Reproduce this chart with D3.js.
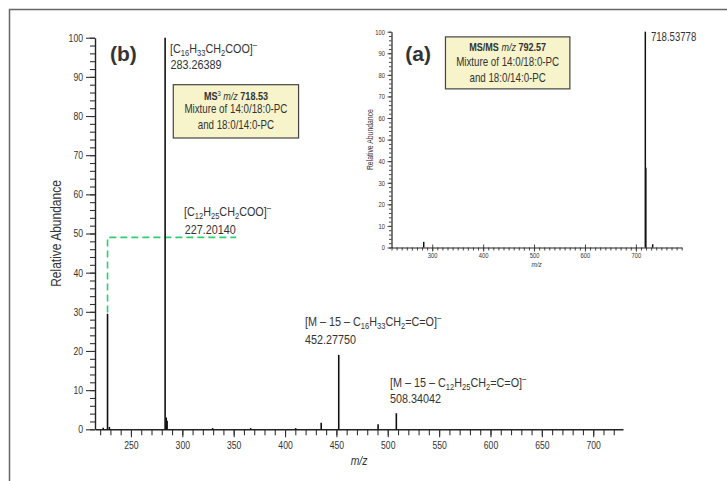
<!DOCTYPE html>
<html>
<head>
<meta charset="utf-8">
<script src="https://cdn.jsdelivr.net/npm/d3@7"></script>
<style>
  body { margin: 0; background: #fff; }
  text { font-family: "Liberation Sans", Arial, sans-serif; fill: #333; }
</style>
</head>
<body>
<div id="chart"></div>
<script>
// main spectrum (b): MS3 of m/z 718.53
var mainMz = [223.0, 227.20, 229.0, 283.26, 284.3, 285.2, 329.5, 366.5, 410.3, 435.2, 452.28, 490.6, 508.34];
var mainAbundance = [0.4, 29.5, 0.6, 100, 3.0, 2.2, 0.3, 0.3, 0.3, 1.7, 19.0, 1.3, 4.1];

// inset spectrum (a): MS/MS of m/z 792.57
var insetMz = [283.3, 718.54, 719.54, 733.0];
var insetAbundance = [2.6, 100, 37, 1.5];

var mainXTicks = [250, 300, 350, 400, 450, 500, 550, 600, 650, 700];
var insetXTicks = [300, 400, 500, 600, 700];
var yTicks = [0, 10, 20, 30, 40, 50, 60, 70, 80, 90, 100];

var svgWidth = 727;
var svgHeight = 481;
var squeeze = 0.8; // condensed look of the original typeface

var svg = d3.select("#chart")
  .append("svg")
  .attr("width", svgWidth)
  .attr("height", svgHeight);

svg.append("rect").attr("width", svgWidth).attr("height", svgHeight).attr("fill", "#fff");

// frame (top and left only)
svg.append("path")
  .attr("d", "M9.5,481 V9.5 H727")
  .attr("fill", "none")
  .attr("stroke", "#666")
  .attr("stroke-width", 1.5);

// place a text with horizontal squeeze
function narrowText(parent, px, py, size, rot) {
  return parent.append("text")
    .attr("transform", `translate(${px}, ${py})${rot ? " rotate(" + rot + ")" : ""} scale(${squeeze}, 1)`)
    .attr("font-size", size);
}

// squeeze axis tick labels, keeping their offsets
function squeezeTicks(a, size, color) {
  a.selectAll("text")
    .attr("font-size", size)
    .attr("fill", color)
    .attr("transform", function() {
      var xx = +this.getAttribute("x") || 0;
      return `translate(${xx}, 0) scale(${squeeze}, 1)`;
    })
    .attr("x", 0);
}

// writes "[C_{16}H_{33}]^{–}" style labels with sub/superscripts
function richText(sel, str, size) {
  var parts = str.split(/(_\{[^}]*\}|\^\{[^}]*\})/).filter(function(p) { return p.length; });
  var back = 0;
  parts.forEach(function(p) {
    var s;
    if (p[0] === "_" || p[0] === "^") {
      var shift = p[0] === "_" ? size * 0.22 : -size * 0.38;
      s = sel.append("tspan").attr("dy", back + shift).attr("font-size", size * 0.7).text(p.slice(2, -1));
      back = -shift;
    } else {
      s = sel.append("tspan").text(p);
      if (back) s.attr("dy", back);
      back = 0;
    }
  });
}

// ---------- main panel (b) ----------
var x = d3.scaleLinear().domain([215, 729]).range([95, 623]);
var y = d3.scaleLinear().domain([0, 100]).range([429.3, 37.7]);

var g = svg.append("g");

// minor ticks
g.append("g")
  .attr("transform", `translate(0, ${y(0)})`)
  .call(d3.axisBottom(x).tickValues(d3.range(220, 721, 10)).tickSize(6).tickFormat(""))
  .call(a => a.select(".domain").remove());
g.append("g")
  .attr("transform", `translate(${x.range()[0]}, 0)`)
  .call(d3.axisLeft(y).tickValues(d3.range(0, 101, 2)).tickSize(5).tickFormat(""))
  .call(a => a.select(".domain").remove());

var xAxis = g.append("g")
  .attr("transform", `translate(0, ${y(0)})`)
  .call(d3.axisBottom(x).tickValues(mainXTicks).tickSize(8).tickSizeOuter(0).tickPadding(4));
var yAxis = g.append("g")
  .attr("transform", `translate(${x.range()[0]}, 0)`)
  .call(d3.axisLeft(y).tickValues(yTicks).tickSize(9).tickSizeOuter(0).tickPadding(3));

[xAxis, yAxis].forEach(function(a) {
  squeezeTicks(a, 10.8, "#3a3a3a");
  a.selectAll("text").attr("font-family", '"Liberation Sans", Arial, sans-serif');
  a.select(".domain").attr("stroke", "#222").attr("stroke-width", 1.4);
});
g.selectAll(".tick line").attr("stroke", "#333").attr("stroke-width", 1.1);

// green dashed guide from the 227 peak
g.append("path")
  .attr("d", d3.line()([[x(227.2), y(29.8)], [x(227.2), y(49)], [x(352.5), y(49)]]))
  .attr("fill", "none")
  .attr("stroke", "#2fcf6f")
  .attr("stroke-width", 1.6)
  .attr("stroke-dasharray", "7,4");

// peaks
g.selectAll(".peak")
  .data(mainMz)
  .enter()
  .append("line")
  .attr("class", "peak")
  .attr("x1", d => x(d))
  .attr("x2", d => x(d))
  .attr("y1", y(0))
  .attr("y2", (d, i) => y(mainAbundance[i]))
  .attr("stroke", "#111")
  .attr("stroke-width", 1.6);

// axis titles
narrowText(g, 61, (y(0) + y(100)) / 2, 15, -90)
  .attr("text-anchor", "middle")
  .attr("fill", "#3a3a3a")
  .text("Relative Abundance");
narrowText(g, (x.range()[0] + x.range()[1]) / 2, 465, 13)
  .attr("text-anchor", "middle")
  .attr("font-style", "italic")
  .attr("fill", "#3a3a3a")
  .text("m/z");

g.append("text")
  .attr("x", x(229.5)).attr("y", y(94.1))
  .attr("font-size", 21).attr("font-weight", "bold").attr("fill", "#222")
  .text("(b)");

// peak annotations: [mz, abundance anchor, text]
var mainNotes = [
  [288.0, 96.1, "[C_{16}H_{33}CH_{2}COO]^{–}"],
  [288.5, 92.0, "283.26389"],
  [301.6, 54.4, "[C_{12}H_{25}CH_{2}COO]^{–}"],
  [302.3, 50.0, "227.20140"],
  [419.4, 26.3, "[M – 15 – C_{16}H_{33}CH_{2}=C=O]^{–}"],
  [419.4, 21.7, "452.27750"],
  [502.2, 10.8, "[M – 15 – C_{12}H_{25}CH_{2}=C=O]^{–}"],
  [502.2, 6.8, "508.34042"]
];
mainNotes.forEach(function(n) {
  var t = narrowText(g, x(n[0]), y(n[1]), 13.5);
  richText(t, n[2], 13.5);
});

// info box
function infoBox(parent, x0, y0, w, h, title, lines, ty, ly) {
  parent.append("rect")
    .attr("x", x0).attr("y", y0).attr("width", w).attr("height", h)
    .attr("fill", "#f7f4cb").attr("stroke", "#444").attr("stroke-width", 1.2);
  var t = narrowText(parent, x0 + w / 2, y0 + ty, 11.3)
    .attr("text-anchor", "middle").attr("font-weight", "bold").attr("fill", "#222");
  title.forEach(function(p) {
    var s = t.append("tspan").text(p[0]);
    if (p[1] === "sup") s.attr("dy", -4).attr("font-size", 7.5).attr("font-weight", "normal");
    if (p[1] === "back") s.attr("dy", 4);
    if (p[1] === "it") s.attr("font-style", "italic").attr("font-weight", "normal");
  });
  lines.forEach(function(l, i) {
    narrowText(parent, x0 + w / 2, y0 + ly + i * 16, 12.2)
      .attr("text-anchor", "middle")
      .text(l);
  });
}
infoBox(g, x(291.2), y(88.0), 125.3, 53.3,
  [["MS"], ["3", "sup"], [" ", "back"], ["m/z", "it"], [" 718.53"]],
  ["Mixture of 14:0/18:0-PC", "and 18:0/14:0-PC"], 15.5, 28);

// ---------- inset panel (a) ----------
var xi = d3.scaleLinear().domain([220, 790]).range([391.5, 681.7]);
var yi = d3.scaleLinear().domain([0, 100]).range([247.5, 31.7]);

var gi = svg.append("g");

gi.append("g")
  .attr("transform", `translate(0, ${yi(0)})`)
  .call(d3.axisBottom(xi).tickValues(d3.range(220, 791, 10)).tickSize(3).tickFormat(""))
  .call(a => a.select(".domain").remove());
gi.append("g")
  .attr("transform", `translate(${xi.range()[0]}, 0)`)
  .call(d3.axisLeft(yi).tickValues(d3.range(0, 101, 2)).tickSize(2.5).tickFormat(""))
  .call(a => a.select(".domain").remove());

var xiAxis = gi.append("g")
  .attr("transform", `translate(0, ${yi(0)})`)
  .call(d3.axisBottom(xi).tickValues(insetXTicks).tickSize(4).tickSizeOuter(0).tickPadding(1.5));
xiAxis.selectAll(".tick line").attr("y1", -3);
var yiAxis = gi.append("g")
  .attr("transform", `translate(${xi.range()[0]}, 0)`)
  .call(d3.axisLeft(yi).tickValues(yTicks).tickSize(4).tickSizeOuter(0).tickPadding(2.5));

[xiAxis, yiAxis].forEach(function(a) {
  squeezeTicks(a, 7.3, "#555");
  a.selectAll("text").attr("font-family", '"Liberation Sans", Arial, sans-serif');
  a.select(".domain").attr("stroke", "#222").attr("stroke-width", 1.2);
});
gi.selectAll(".tick line").attr("stroke", "#333").attr("stroke-width", 0.9);

gi.selectAll(".ipeak")
  .data(insetMz)
  .enter()
  .append("line")
  .attr("class", "ipeak")
  .attr("x1", d => xi(d))
  .attr("x2", d => xi(d))
  .attr("y1", yi(0))
  .attr("y2", (d, i) => yi(insetAbundance[i]))
  .attr("stroke", "#111")
  .attr("stroke-width", 1.5);

narrowText(gi, 373, (yi(0) + yi(100)) / 2, 8.6, -90)
  .attr("text-anchor", "middle")
  .attr("fill", "#666")
  .text("Relative Abundance");
narrowText(gi, xi(505), 267, 8)
  .attr("text-anchor", "middle")
  .attr("font-style", "italic")
  .attr("fill", "#555")
  .text("m/z");

gi.append("text")
  .attr("x", xi(247)).attr("y", yi(86.3))
  .attr("font-size", 21).attr("font-weight", "bold").attr("fill", "#222")
  .text("(a)");

narrowText(gi, xi(729.5), yi(95.6), 12)
  .text("718.53778");

infoBox(gi, xi(326), yi(97.6), 124.4, 52,
  [["MS/MS "], ["m/z", "it"], [" 792.57"]],
  ["Mixture of 14:0/18:0-PC", "and 18:0/14:0-PC"], 14, 28.8);
</script>
</body>
</html>
